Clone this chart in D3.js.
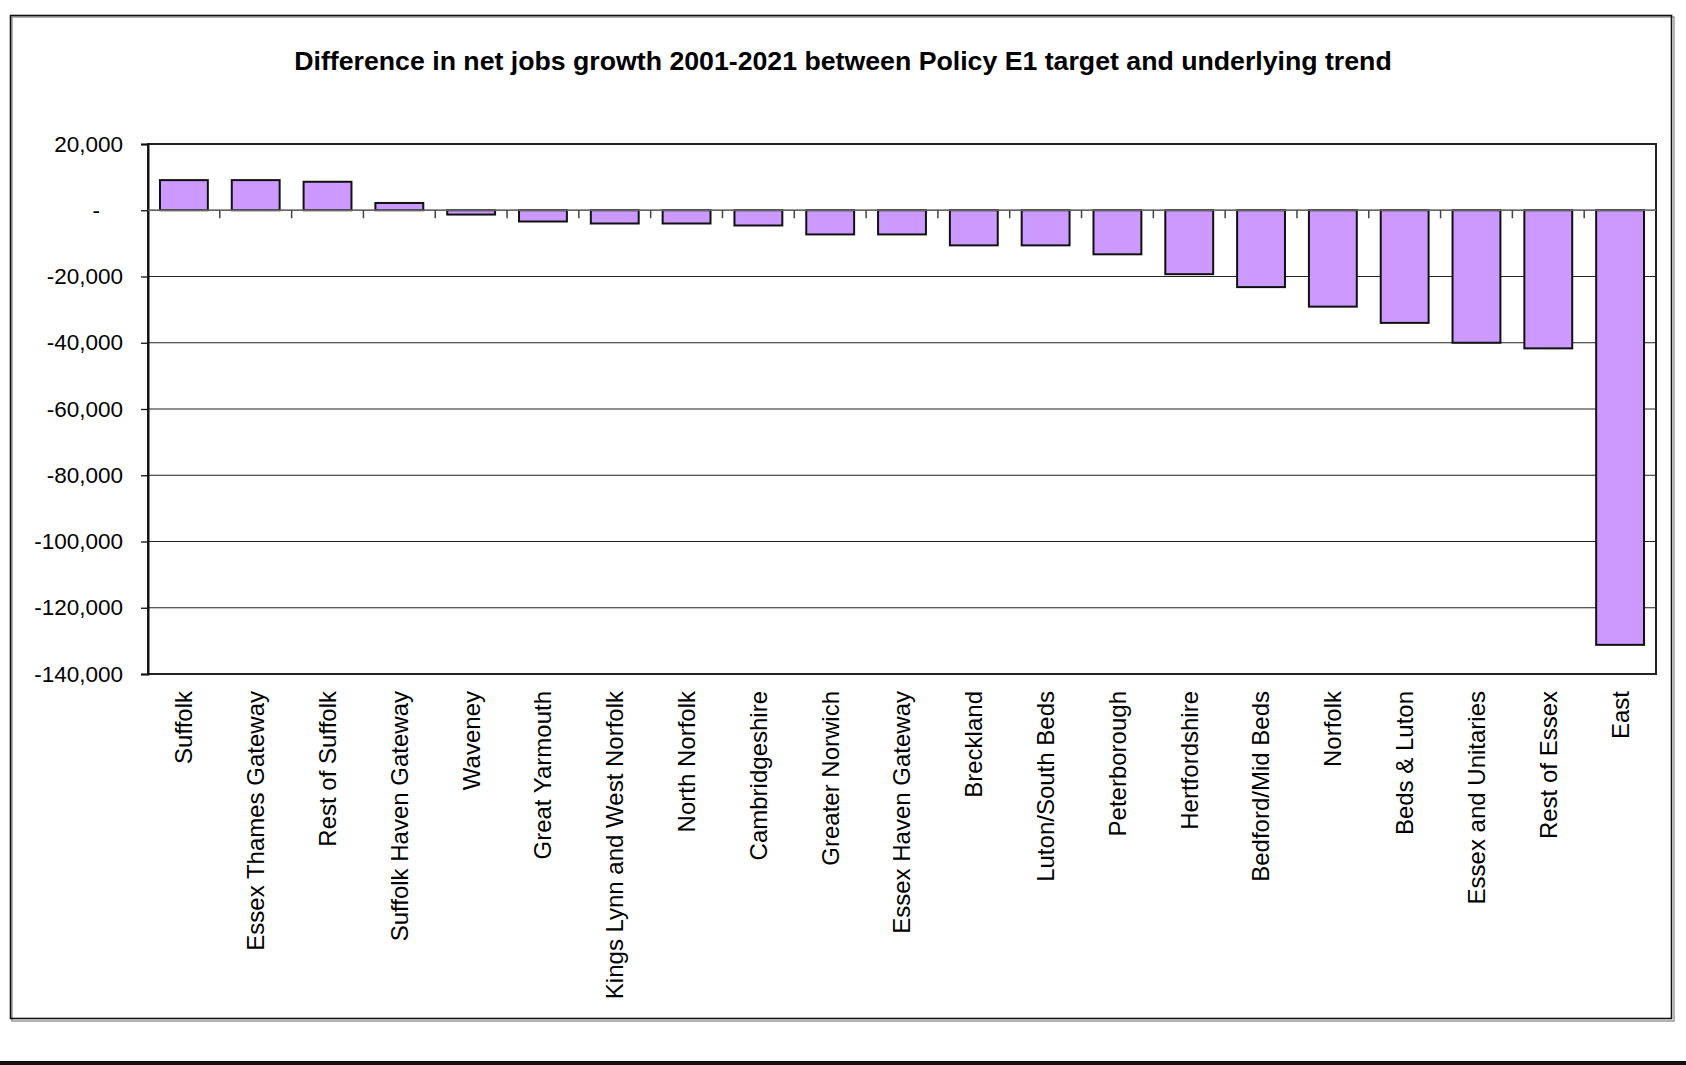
<!DOCTYPE html>
<html>
<head>
<meta charset="utf-8">
<script src="https://cdn.jsdelivr.net/npm/d3@7"></script>
<style>
  html, body { margin: 0; padding: 0; background: #fff; }
  svg { display: block; font-family: "Liberation Sans", Arial, sans-serif; }
</style>
</head>
<body>
<svg id="chart" width="1686" height="1065"></svg>
<script>
const chartTitle = "Difference in net jobs growth 2001-2021 between Policy E1 target and underlying trend";
const categories = [
  "Suffolk", "Essex Thames Gateway", "Rest of Suffolk", "Suffolk Haven Gateway", "Waveney",
  "Great Yarmouth", "Kings Lynn and West Norfolk", "North Norfolk", "Cambridgeshire",
  "Greater Norwich", "Essex Haven Gateway", "Breckland", "Luton/South Beds", "Peterborough",
  "Hertfordshire", "Bedford/Mid Beds", "Norfolk", "Beds & Luton", "Essex and Unitaries",
  "Rest of Essex", "East"
];
const values = [
  9100, 9100, 8600, 2200, -1300,
  -3400, -4000, -4000, -4600,
  -7300, -7300, -10600, -10600, -13300,
  -19300, -23200, -29100, -34000, -40000,
  -41700, -131200
];
const yTicks = [20000, 0, -20000, -40000, -60000, -80000, -100000, -120000, -140000];

const svg = d3.select("#chart");
const W = 1686, H = 1065;
const plot = { left: 148, right: 1656, top: 144, bottom: 674 };

svg.append("rect").attr("x", 0).attr("y", 0).attr("width", W).attr("height", H).attr("fill", "#fff");

// outer chart border (with slight shadow)
svg.append("rect").attr("x", 12).attr("y", 17).attr("width", 1662).attr("height", 1004)
  .attr("fill", "none").attr("stroke", "#999").attr("stroke-width", 1.5);
svg.append("rect").attr("x", 10.5).attr("y", 15.5).attr("width", 1661).attr("height", 1003)
  .attr("fill", "none").attr("stroke", "#111").attr("stroke-width", 1.6);

// bottom black band
svg.append("rect").attr("x", 0).attr("y", 1061).attr("width", W).attr("height", 4).attr("fill", "#111");

// title
svg.append("text")
  .attr("x", 843).attr("y", 70)
  .attr("text-anchor", "middle")
  .attr("font-weight", "bold")
  .attr("font-size", 26.7)
  .attr("fill", "#000")
  .text(chartTitle);

const x = d3.scaleBand().domain(categories).range([plot.left, plot.right])
  .paddingInner(1/3).paddingOuter(1/6);
const y = d3.scaleLinear().domain([-140000, 20000]).range([plot.bottom, plot.top]);

// gridlines
svg.append("g").selectAll("line").data(yTicks).join("line")
  .attr("x1", plot.left).attr("x2", plot.right)
  .attr("y1", d => y(d)).attr("y2", d => y(d))
  .attr("stroke", "#222").attr("stroke-width", 1.2);

// plot frame
svg.append("rect")
  .attr("x", plot.left).attr("y", plot.top)
  .attr("width", plot.right - plot.left).attr("height", plot.bottom - plot.top)
  .attr("fill", "none").attr("stroke", "#222").attr("stroke-width", 2);

// y axis
const fmt = d3.format(",");
const yAxis = d3.axisLeft(y).tickValues(yTicks).tickSize(7).tickPadding(18)
  .tickFormat(d => d === 0 ? "-" : fmt(d).replace("\u2212", "-"));
const yg = svg.append("g").attr("transform", `translate(${plot.left},0)`).call(yAxis);
yg.select(".domain").attr("stroke", "#111").attr("stroke-width", 2);
yg.selectAll(".tick line").attr("stroke", "#111").attr("stroke-width", 1.3);
yg.selectAll(".tick text")
  .attr("font-size", 22.5).attr("fill", "#000")
  .attr("font-family", "'Liberation Sans', Arial, sans-serif")
  .attr("dx", d => d === 0 ? -23 : 0);

// bars
svg.append("g").selectAll("rect").data(categories).join("rect")
  .attr("x", d => x(d))
  .attr("y", (d, i) => y(Math.max(0, values[i])))
  .attr("width", x.bandwidth())
  .attr("height", (d, i) => Math.abs(y(values[i]) - y(0)))
  .attr("fill", "#CC99FF")
  .attr("stroke", "#111").attr("stroke-width", 2);

// zero axis line with category ticks
const step = x.step();
const boundaries = d3.range(1, categories.length).map(i => plot.left + i * step);
svg.append("line")
  .attr("x1", plot.left).attr("x2", plot.right)
  .attr("y1", y(0)).attr("y2", y(0))
  .attr("stroke", "#666").attr("stroke-width", 1.5);
svg.append("g").selectAll("line").data(boundaries).join("line")
  .attr("x1", d => d).attr("x2", d => d)
  .attr("y1", y(0)).attr("y2", y(0) + 8)
  .attr("stroke", "#444").attr("stroke-width", 1.5);

// category labels (rotated)
svg.append("g").selectAll("text").data(categories).join("text")
  .attr("transform", d => `translate(${x(d) + x.bandwidth() / 2},${plot.bottom + 17}) rotate(-90)`)
  .attr("text-anchor", "end")
  .attr("dy", "0.35em")
  .attr("font-size", 24)
  .attr("fill", "#000")
  .text(d => d);
</script>
</body>
</html>
